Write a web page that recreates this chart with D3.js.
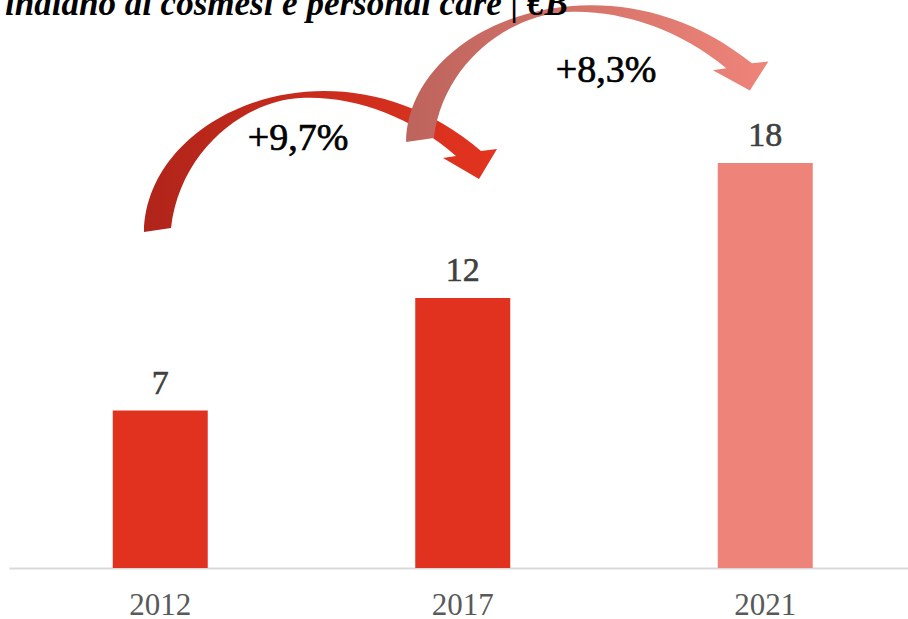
<!DOCTYPE html>
<html>
<head>
<meta charset="utf-8">
<script src="https://cdn.jsdelivr.net/npm/d3@7"></script>
<style>
  body { margin: 0; background: #fff; }
  text { font-family: "Liberation Serif", "Times New Roman", serif; }
</style>
</head>
<body>
<script>
// data
const years = ["2012", "2017", "2021"];
const values = [7, 12, 18];
const growthLabels = ["+9,7%", "+8,3%"];
const titleText = "indiano di cosmesi e personal care | €B";

let margin = {top: 0, right: 0, bottom: 51, left: 9},
    width = 908 - margin.left - margin.right,
    height = 619 - margin.top - margin.bottom;

let svg = d3.select("body")
            .append("svg")
            .attr("width", 908)
            .attr("height", 619);

let defs = svg.append("defs");

let g = svg.append("g")
           .attr("transform", `translate(${margin.left}, ${margin.top})`);

let xScale = d3.scaleBand()
    .domain(years)
    .range([0, 907.5])
    .paddingInner(0.686)
    .paddingOuter(0.343);

let yScale = d3.scaleLinear()
    .domain([0, 18])
    .range([height, 163]);

const barColor = (d, i) => i === years.length - 1 ? "#ee8379" : "#e0321f";

// axis at the bottom (no ticks, light line)
let xAxis = d3.axisBottom(xScale).tickSize(0);
let ax = g.append("g")
    .attr("transform", `translate(0, ${height})`)
    .call(xAxis);
ax.select(".domain")
    .attr("stroke", "#d9d9d9")
    .attr("stroke-width", 2);
ax.selectAll("text")
    .attr("y", 47)
    .attr("dy", 0)
    .attr("fill", "#595959")
    .style("font-family", "'Liberation Serif', serif")
    .style("font-size", "31px");

// bars
g.selectAll(".bar")
    .data(values)
    .enter()
    .append("rect")
        .attr("class", "bar")
        .attr("fill", barColor)
        .attr("x", (d, i) => xScale(years[i]))
        .attr("width", xScale.bandwidth())
        .attr("y", d => yScale(d))
        .attr("height", d => height - yScale(d));

// value labels
g.selectAll(".val")
    .data(values)
    .enter()
    .append("text")
        .attr("class", "val")
        .attr("x", (d, i) => xScale(years[i]) + xScale.bandwidth() / 2)
        .attr("y", d => yScale(d) - 17)
        .attr("text-anchor", "middle")
        .attr("fill", "#404040")
        .attr("stroke", "#404040")
        .attr("stroke-width", 0.6)
        .style("font-size", "34px")
        .text(d => d);

// curved growth arrows - one template, placed per pair of bars
const arrowPath = "M-13.5,2 C-11.5,-120 182.5,-200 323.5,-79 L339.5,-81 L321.5,-51 L285.5,-72 L298.5,-74 " +
                  "C252.5,-115 192.5,-135 142.5,-132 C87.5,-129 22.5,-80 13.5,-2 Z";

const arrows = [
    {x: 148.5, y: 230, sx: 1, sy: 1, c0: "#b0241a", c1: "#e3341f", lx: 289, ly: 150},
    {x: 411, y: 140, sx: 1.026, sy: 0.97, c0: "#bd645c", c1: "#ef8479", lx: 597, ly: 82}
];

arrows.forEach((a, i) => {
    let grad = defs.append("linearGradient")
        .attr("id", "grad" + i)
        .attr("x1", "0%").attr("x2", "100%")
        .attr("y1", "0%").attr("y2", "0%");
    grad.append("stop").attr("offset", "0%").attr("stop-color", a.c0);
    grad.append("stop").attr("offset", "100%").attr("stop-color", a.c1);

    g.append("path")
        .attr("d", arrowPath)
        .attr("fill", `url(#grad${i})`)
        .attr("transform", `translate(${a.x}, ${a.y}) scale(${a.sx}, ${a.sy})`);

    g.append("text")
        .attr("x", a.lx)
        .attr("y", a.ly)
        .attr("text-anchor", "middle")
        .attr("fill", "#000")
        .attr("stroke", "#000")
        .attr("stroke-width", 0.7)
        .style("font-size", "38px")
        .text(growthLabels[i]);
});

// title (cut at the top edge, like the source)
svg.append("text")
    .attr("x", 5)
    .attr("y", 15)
    .attr("fill", "#000")
    .style("font-size", "35px")
    .style("font-weight", "bold")
    .style("font-style", "italic")
    .text(titleText);
</script>
</body>
</html>
